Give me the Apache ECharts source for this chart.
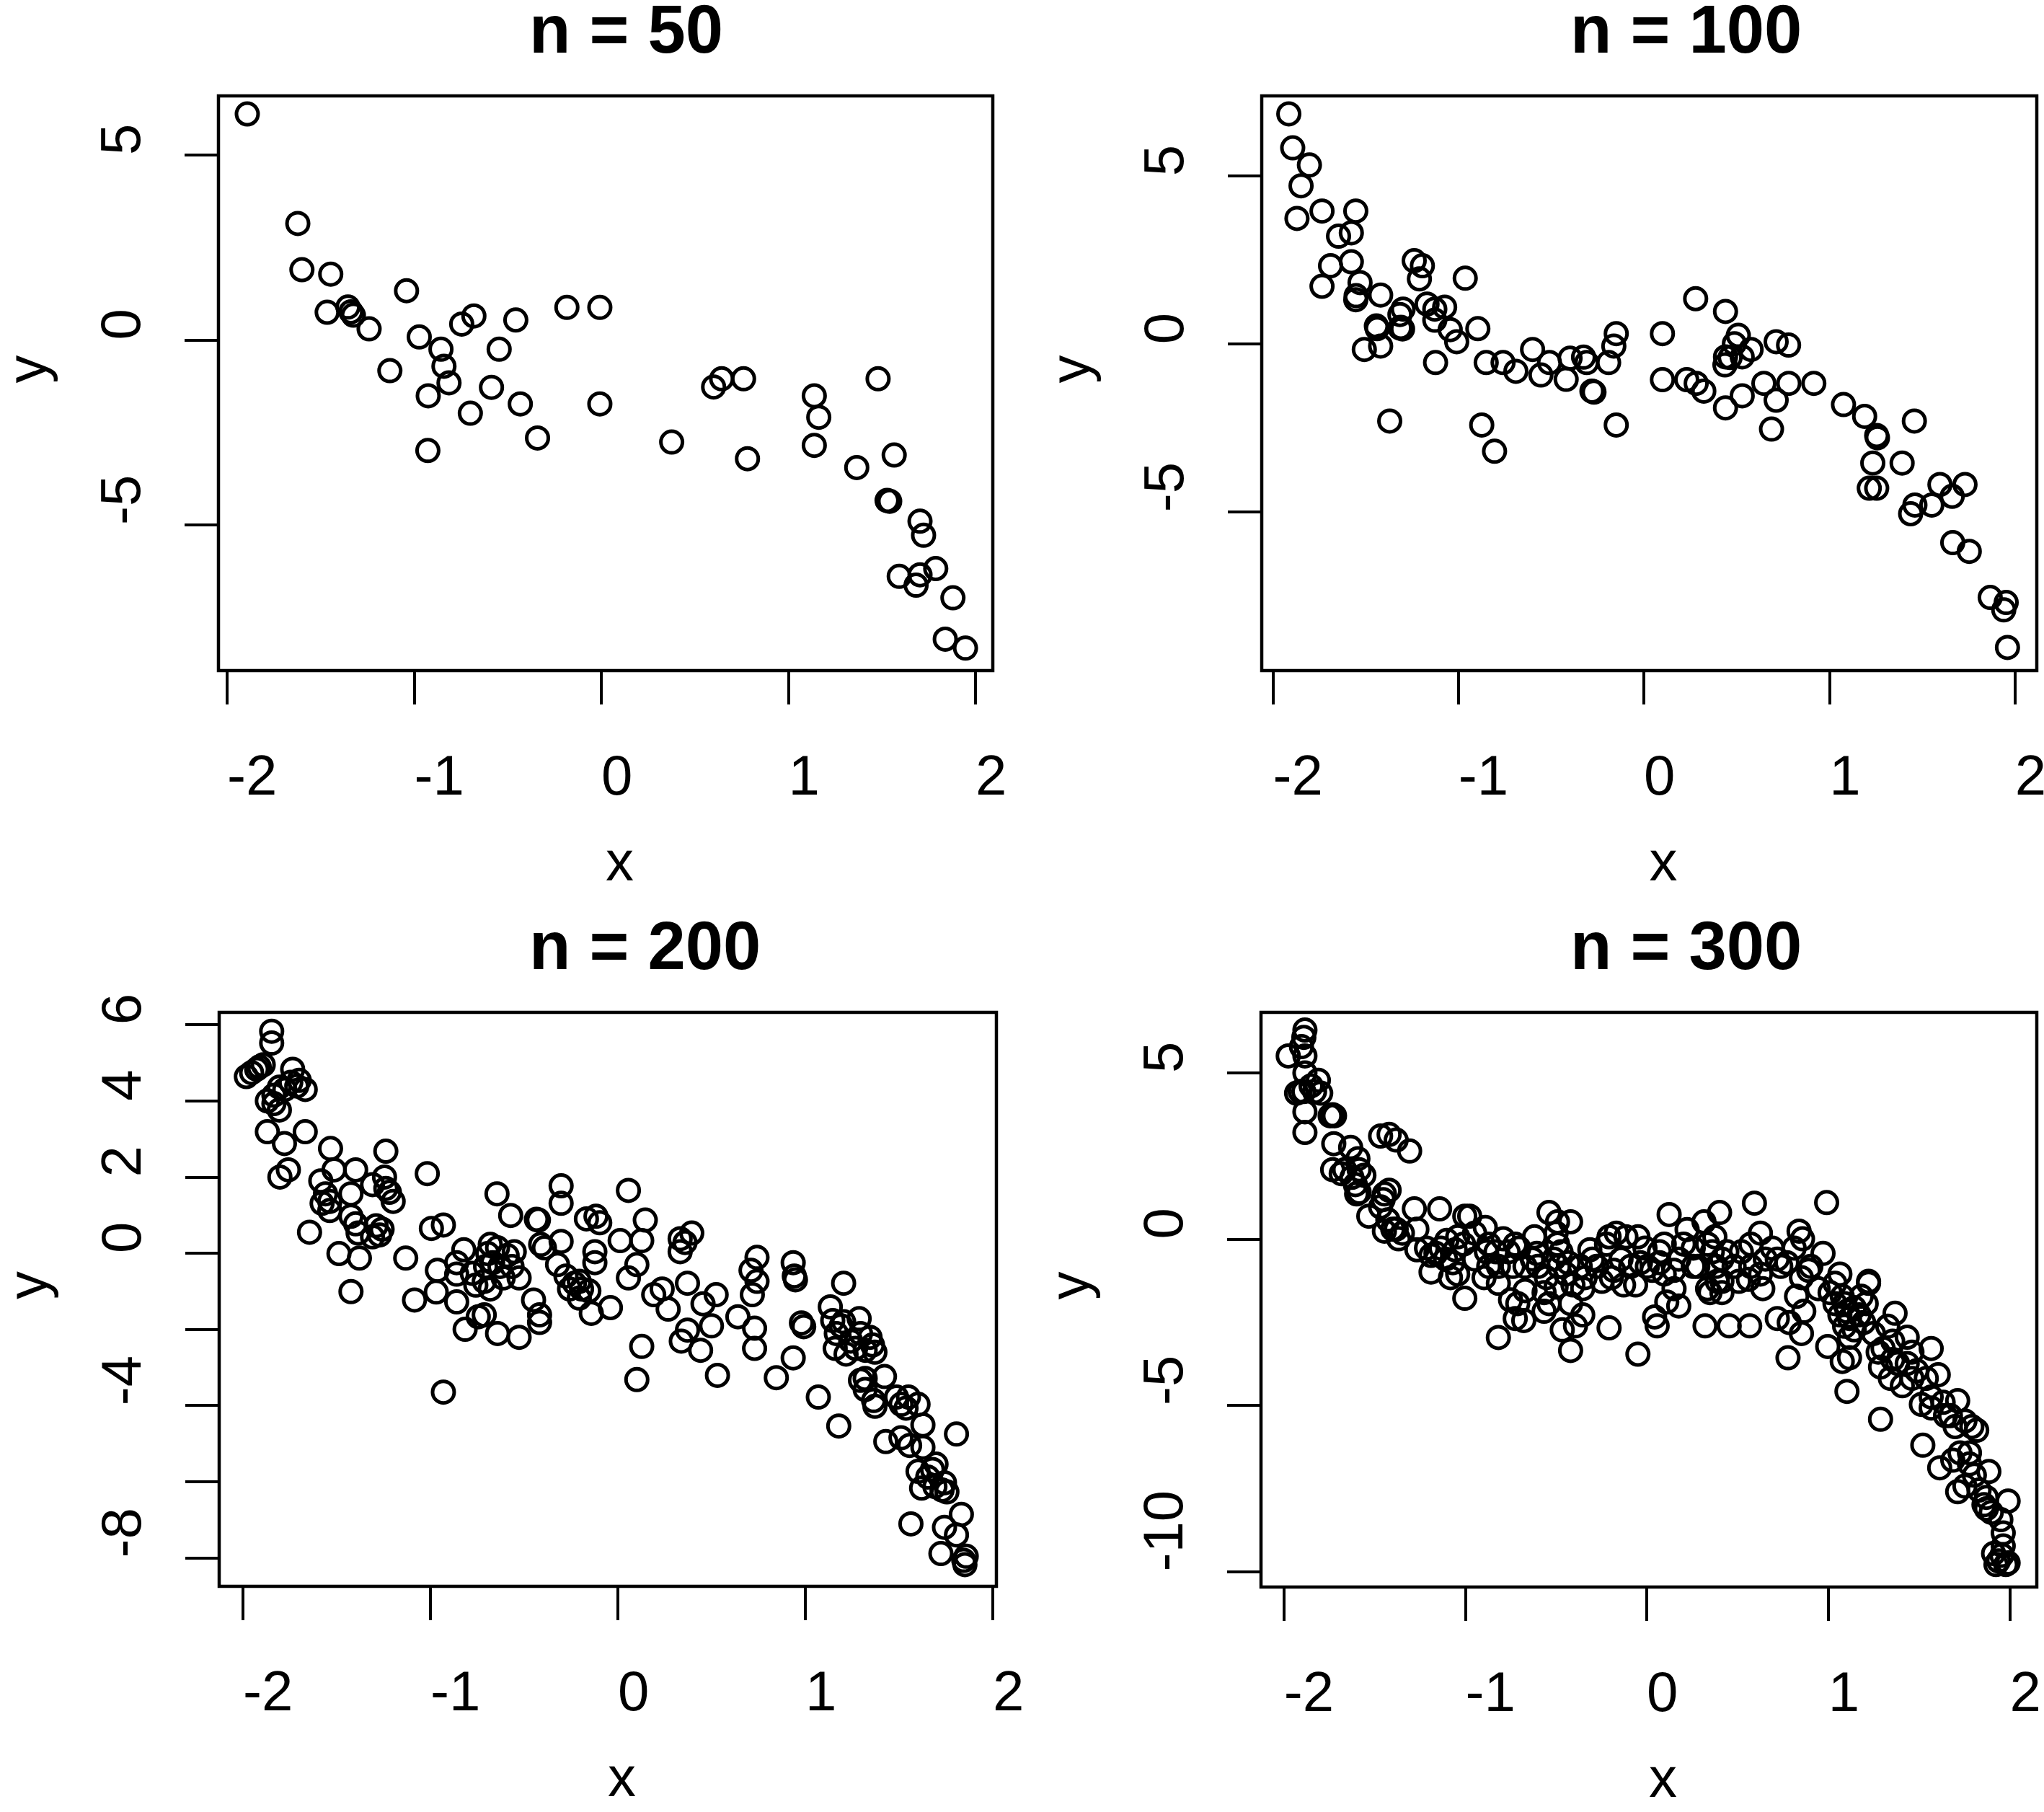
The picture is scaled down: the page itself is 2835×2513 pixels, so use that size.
<!DOCTYPE html>
<html><head><meta charset="utf-8">
<script src="https://cdn.jsdelivr.net/npm/echarts@6/dist/echarts.min.js"></script>
<style>html,body{margin:0;padding:0;background:#fff}#c{width:2835px;height:2513px}</style>
</head><body><div id="c"></div>
<script>
// ---------- data ----------
const titles = ['n = 50', 'n = 100', 'n = 200', 'n = 300'];
const xTicks = [-2, -1, 0, 1, 2];
const yTicksA = [-5, 0, 5];
const yTicksC = [-8, -6, -4, -2, 0, 2, 4, 6];
const yLabelsC = [-8, -4, 0, 2, 4, 6];
const yTicksD = [-10, -5, 0, 5];

const n50 = [[-1.892,6.11],[-1.622,3.15],[-1.600,1.90],[-1.446,1.78],[-1.465,0.75],[-1.354,0.89],[-1.338,0.76],[-1.325,0.67],[-1.241,0.30],[-1.041,1.33],[-1.130,-0.83],[-0.973,0.08],[-0.857,-0.25],[-0.841,-0.71],[-0.814,-1.16],[-0.925,-1.51],[-0.927,-2.99],[-0.746,0.43],[-0.681,0.65],[-0.700,-1.98],[-0.587,-1.28],[-0.546,-0.25],[-0.457,0.54],[-0.433,-1.73],[-0.341,-2.65],[-0.184,0.88],[-0.008,0.88],[-0.008,-1.73],[0.376,-2.76],[0.600,-1.27],[0.643,-1.05],[0.760,-1.05],[0.781,-3.21],[1.138,-1.51],[1.162,-2.09],[1.138,-2.85],[1.365,-3.45],[1.479,-1.05],[1.565,-3.11],[1.527,-4.34],[1.541,-4.36],[1.703,-4.90],[1.722,-5.28],[1.787,-6.18],[1.592,-6.39],[1.703,-6.35],[1.682,-6.63],[1.879,-6.97],[1.838,-8.09],[1.946,-8.33]];

const n100 = [[-1.914,6.85],[-1.893,5.84],[-1.803,5.33],[-1.848,4.71],[-1.870,3.74],[-1.735,3.96],[-1.553,3.96],[-1.646,3.21],[-1.577,3.31],[-1.689,2.33],[-1.577,2.45],[-1.735,1.72],[-1.530,1.83],[-1.551,1.44],[-1.553,1.32],[-1.419,1.46],[-1.507,-0.16],[-1.419,-0.06],[-1.442,0.54],[-1.438,0.46],[-1.370,-2.29],[-1.315,0.88],[-1.298,1.04],[-1.315,0.48],[-1.301,0.45],[-1.238,2.48],[-1.194,2.33],[-1.210,1.94],[-1.169,1.19],[-1.127,1.04],[-1.074,1.10],[-1.127,0.71],[-1.044,0.43],[-1.009,0.07],[-1.123,-0.55],[-0.963,1.96],[-0.895,0.46],[-0.874,-2.41],[-0.805,-3.19],[-0.850,-0.55],[-0.759,-0.55],[-0.690,-0.81],[-0.600,-0.16],[-0.555,-0.92],[-0.509,-0.55],[-0.419,-1.05],[-0.398,-0.42],[-0.325,-0.39],[-0.308,-0.55],[-0.280,-1.40],[-0.269,-1.43],[-0.190,-0.55],[-0.162,-0.06],[-0.149,0.31],[-0.149,-2.41],
[0.100,0.31],[0.100,-1.06],[0.279,1.35],[0.440,0.97],[0.509,0.26],[0.488,0.01],[0.578,-0.16],[0.530,-0.38],[0.440,-0.38],[0.437,-0.62],[0.231,-1.06],[0.282,-1.17],[0.323,-1.40],[0.440,-1.90],[0.530,-1.54],[0.647,-1.17],[0.713,-1.67],[0.688,-2.53],[0.713,0.07],[0.780,-0.03],[0.781,-1.17],[0.916,-1.17],[1.076,-1.80],[1.190,-2.15],[1.255,-2.72],[1.259,-2.79],[1.234,-3.54],[1.215,-4.29],[1.255,-4.29],[1.458,-2.29],[1.392,-3.54],[1.596,-4.18],[1.731,-4.18],[1.662,-4.53],[1.552,-4.79],[1.461,-4.79],[1.438,-5.05],[1.665,-5.91],[1.754,-6.17],[1.867,-7.54],[1.953,-7.69],[1.940,-7.91],[1.960,-9.03],[-1.310,0.50],[0.465,-0.40]];

const n200 = [[-1.847,5.83],[-1.847,5.52],[-1.892,4.95],[-1.927,4.83],[-1.954,4.74],[-1.982,4.64],[-1.735,4.83],[-1.745,4.49],[-1.713,4.39],[-1.668,4.30],[-1.806,4.36],[-1.870,4.00],[-1.835,3.93],[-1.806,3.76],[-1.870,3.19],[-1.779,2.88],[-1.668,3.19],[-1.758,2.19],[-1.803,2.00],[-1.533,2.75],[-1.514,2.19],[-1.399,2.19],[-1.585,1.90],[-1.560,1.56],[-1.537,1.36],[-1.537,1.12],[-1.424,1.56],[-1.424,0.97],[-1.399,0.77],[-1.386,0.53],[-1.309,1.80],[-1.238,2.68],[-1.245,2.00],[-1.238,1.70],[-1.199,1.36],[-1.258,0.63],[-1.271,0.48],[-1.309,0.43],[-1.645,0.55],[-1.488,-0.01],[-1.379,-0.13],[-1.424,-1.01],[-1.017,2.09],[-0.995,0.65],[-0.931,0.74],[-1.132,-0.13],[-0.963,-0.45],[-0.860,-0.25],[-0.822,0.09],[-0.860,-0.55],[-0.777,-0.53],[-0.758,-0.84],[-0.969,-1.02],[-0.860,-1.28],[-0.745,-1.67],[-0.815,-2.00],[-1.085,-1.23],[-0.931,-3.65],
[-0.645,1.56],[-0.572,0.99],[-0.424,0.87],[-0.435,0.89],[-0.303,1.77],[-0.303,1.31],[-0.681,0.23],[-0.694,-0.01],[-0.706,-0.35],[-0.713,-0.74],[-0.713,-1.62],[-0.642,0.14],[-0.591,-0.06],[-0.612,-0.65],[-0.527,-0.65],[-0.642,-2.11],[-0.527,-2.21],[-0.450,-1.23],[-0.418,-1.62],[-0.418,-1.82],[-0.412,0.23],[-0.392,0.14],[-0.303,0.31],[-0.322,-0.30],[-0.277,-0.60],[-0.232,-0.79],[-0.194,-0.94],[-0.155,-0.99],[-0.206,-1.18],[-0.142,-1.58],[-0.040,-1.43],[-0.168,0.90],[-0.117,0.97],[-0.097,0.80],[-0.123,0.04],[-0.123,-0.25],[0.012,0.33],[0.056,1.65],[0.146,0.87],[0.127,0.33],[0.101,-0.30],[0.056,-0.65],[0.127,-2.45],[0.101,-3.32],[0.191,-1.09],[0.236,-0.94],[0.268,-1.47],[0.371,-0.79],[0.332,0.04],[0.358,0.28],[0.394,0.53],[0.338,-2.31],[0.371,-2.02],[0.441,-2.55],[0.454,-1.33],[0.524,-1.09],[0.499,-1.91],[0.531,-3.21],[0.640,-1.67],[0.710,-0.45],[0.742,-0.11],[0.717,-1.09],[0.729,-1.97],[0.729,-2.50],[0.742,-0.74],
[0.935,-0.25],[0.941,-0.60],[0.947,-0.70],[1.204,-0.79],[0.979,-1.83],[0.991,-1.93],[0.935,-2.75],[0.845,-3.27],[1.069,-3.78],[1.178,-4.54],[1.133,-1.41],[1.146,-1.77],[1.204,-1.80],[1.287,-1.72],[1.345,-2.21],[1.159,-2.50],[1.217,-2.65],[1.268,-2.50],[1.319,-2.55],[1.371,-2.60],[1.422,-3.24],[1.294,-3.34],[1.319,-3.58],[1.364,-3.87],[1.371,-4.02],[1.486,-3.78],[1.550,-3.78],[1.601,-3.97],[1.627,-4.51],[1.429,-4.95],[1.510,-4.85],[1.556,-5.05],[1.627,-5.10],[1.806,-4.75],[1.697,-5.54],[1.601,-5.73],[1.653,-5.88],[1.691,-6.13],[1.755,-6.27],[1.742,-6.03],[1.620,-6.17],[1.832,-6.86],[1.563,-7.11],[1.742,-7.20],[1.806,-7.40],[1.723,-7.89],[1.858,-7.96],[1.851,-8.18],
[-1.835,4.15],[-1.777,4.30],[-1.700,4.54],[-1.913,4.89],[-1.578,1.31],[-1.290,0.72],[-1.219,1.60],[-0.668,-0.25],[-0.565,-0.35],[-0.629,-0.35],[-0.681,-0.94],[-0.553,0.04],[-0.258,-0.94],[-0.206,-0.74],[0.332,0.38],[1.165,-2.11],[1.242,-2.31],[1.294,-2.11],[1.358,-2.41],[1.191,-1.91],[1.537,-4.07],[1.678,-5.68],[1.729,-6.22],[1.845,-8.07],[1.319,-3.29],[1.511,-3.97]];

const n300 = [[-1.884,6.29],[-1.890,6.07],[-1.976,5.51],[-1.884,5.51],[-1.884,5.00],[-1.930,4.39],[-1.890,4.44],[-1.810,4.78],[-1.797,4.39],[-1.831,4.44],[-1.884,3.83],[-1.884,3.21],[-1.731,3.74],[-1.721,3.71],[-1.725,2.87],[-1.632,2.76],[-1.592,2.42],[-1.731,2.09],[-1.684,1.97],[-1.585,2.09],[-1.559,1.92],[-1.606,1.64],[-1.599,1.36],[-1.532,0.69],[-1.467,3.10],[-1.420,3.15],[-1.381,2.98],[-1.307,2.65],[-1.446,1.36],[-1.420,1.47],[-1.467,0.97],[-1.446,0.24],[-1.381,0.30],[-1.368,0.01],[-1.427,0.58],[-1.281,0.91],[-1.267,0.30],[-1.267,-0.32],[-1.189,-0.99],[-1.162,-0.43],[-1.142,0.91],[-1.102,-0.04],[-1.069,-0.71],[-1.082,-1.16],[-1.056,-0.32],[-1.010,-0.15],[-1.003,0.69],[-0.976,0.69],[-1.003,-1.78],[-0.818,-2.96],[-0.890,0.35],[-0.871,-0.15],[-0.897,-1.16],[-0.818,-1.33],[-0.791,0.01],[-0.831,-0.38],[-0.751,-1.83],[-0.725,-2.39],[-0.738,-0.82],
[-0.705,-0.27],[-0.711,-1.94],[-0.678,-2.45],[-0.671,-1.55],[-0.606,-0.43],[-0.599,-0.82],[-0.539,0.80],[-0.492,0.52],[-0.500,0.18],[-0.492,-0.15],[-0.420,0.52],[-0.486,-0.82],[-0.500,-1.44],[-0.539,-1.94],[-0.466,-2.73],[-0.420,-3.35],[-0.393,-2.61],[-0.353,-2.28],[-0.407,-1.38],[-0.353,-1.49],[-0.300,-0.60],[-0.314,-0.32],[-0.340,-1.16],[-0.208,-2.67],[-0.208,0.07],[-0.168,0.18],[-0.115,0.07],[-0.049,0.07],[-0.195,-1.16],[-0.182,-0.94],[-0.128,-1.38],[-0.062,-1.38],[-0.035,-0.71],[-0.049,-3.46],[0.043,-2.34],[0.057,-2.61],[0.110,-1.89],[0.176,-2.01],[0.070,-0.38],[0.070,-0.71],[0.123,0.74],[0.150,-0.94],[0.222,0.29],[0.256,-0.27],[0.281,-0.82],[0.315,0.52],[0.401,0.80],[0.321,-2.61],[0.454,-2.61],[0.567,-2.61],[0.593,1.08],[0.361,-0.38],[0.382,-0.82],[0.388,-1.27],[0.348,-1.61],[0.414,-0.60],[0.521,-0.38],[0.573,-0.15],[0.560,-1.21],[0.626,0.18],[0.639,-1.49],[0.003,-0.82],[-0.619,0.07],[-0.566,-2.17],[-0.433,-0.71],[0.414,-1.27],
[0.991,1.10],[0.839,0.24],[0.858,0.01],[0.971,-0.43],[0.738,-0.82],[0.852,-1.16],[0.892,-0.94],[0.825,-1.72],[0.865,-2.17],[0.719,-2.39],[0.785,-2.51],[0.852,-2.84],[0.778,-3.57],[0.997,-3.23],[1.037,-1.33],[1.064,-1.05],[1.077,-1.72],[1.103,-2.17],[1.143,-2.06],[1.222,-1.33],[1.222,-1.27],[1.090,-2.62],[1.117,-2.95],[1.077,-3.68],[1.117,-3.57],[1.103,-4.58],[1.368,-2.23],[1.328,-2.62],[1.275,-3.40],[1.288,-3.85],[1.342,-4.19],[1.435,-2.95],[1.461,-3.40],[1.567,-3.29],[1.487,-3.96],[1.606,-4.08],[1.513,-4.97],[1.567,-4.75],[1.633,-4.91],[1.713,-4.86],[1.673,-5.31],[1.753,-5.47],[1.791,-5.64],[1.288,-5.42],[1.521,-6.20],[1.614,-6.88],[1.686,-6.65],[1.778,-6.76],[1.885,-6.99],[1.713,-7.60],[1.753,-7.43],[1.871,-8.11],[1.991,-7.88],[1.951,-8.44],[1.964,-8.84],[1.957,-9.51],[1.978,-9.79],[1.924,-9.79],[1.182,-1.72],[1.195,-2.51],[1.355,-3.62],[1.408,-4.41],[1.818,-5.75],[1.858,-7.99],[1.911,-9.46],
[-0.725,-0.15],[-0.631,-0.60],[-0.553,-1.16],[-0.446,-1.05],[-0.473,-0.38],[-0.367,-0.82],[-0.275,-0.82],[-0.248,-1.27],[-0.222,-0.15],[-0.142,-0.60],[-0.089,-0.82],[-0.010,-0.27],[0.030,-0.94],[0.096,-0.15],[0.176,-0.60],[0.203,-0.15],[0.256,-0.82],[0.335,-0.15],[0.375,0.07],[0.441,-0.38],[0.481,-0.82],[0.507,-1.27],[0.573,-0.82],[0.653,-0.60],[0.626,-1.05],[0.414,-1.61],[0.335,-1.49],[-0.566,-1.61],[-0.671,-0.82],[-0.420,-1.94],[-0.513,-0.60],[0.096,-1.05],[0.150,-1.49],
[0.692,-0.27],[0.719,-0.60],[0.772,-0.71],[0.812,-0.27],[0.904,-0.82],[0.944,-1.49],[1.010,-1.61],[1.037,-1.94],[1.064,-2.28],[1.090,-1.94],[1.117,-2.39],[1.143,-2.73],[1.170,-2.28],[1.209,-1.94],[1.249,-2.84],[1.302,-3.29],[1.355,-3.07],[1.382,-3.74],[1.435,-3.74],[1.461,-4.19],[1.540,-4.19],[1.567,-5.08],[1.646,-5.31],[1.699,-5.64],[1.726,-6.43],[1.778,-6.43],[1.805,-7.10],[1.831,-7.55],[1.871,-7.77],[1.898,-8.22],[1.964,-9.23],[1.938,-9.68],[1.991,-9.74],
[-1.903,5.79],[-1.850,4.61],[-1.910,4.44],[-1.745,3.71],[-1.665,2.09],[-1.625,1.86],[-1.585,1.41],[-1.453,1.19],[-1.400,0.30],[-1.347,0.18],[-1.214,-0.27],[-1.135,-0.27],[-1.109,-0.60],[-1.042,0.07],[-0.949,0.18],[-0.949,-0.60],[-0.871,-0.82],[-0.818,-0.82],[-0.764,-0.38],[-1.189,-0.49],[-1.042,-1.05],[-0.884,-0.38]];

// ---------- layout (pixels) ----------
const FONT = '"Liberation Sans", Arial, Helvetica, sans-serif';
const panels = [
  {data: n50,  box: [303, 133, 1377, 930],   xr: [-2.046, 2.092], yr: [-8.938, 6.598], yt: yTicksA, yl: yTicksA, tl: [734, 0]},
  {data: n100, box: [1750, 133, 2825, 930],  xr: [-2.060, 2.118], yr: [-9.717, 7.386], yt: yTicksA, yl: yTicksA, tl: [2178, 0]},
  {data: n200, box: [304, 1404, 1382, 2200], xr: [-2.127, 2.019], yr: [-8.750, 6.326], yt: yTicksC, yl: yLabelsC, tl: [734, 1271]},
  {data: n300, box: [1749, 1404, 2825, 2201], xr: [-2.126, 2.149], yr: [-10.466, 6.822], yt: yTicksD, yl: yTicksD, tl: [2178, 1271]}
];

const option = {
  animation: false, backgroundColor: '#fff',
  title: [], grid: [], xAxis: [], yAxis: [], series: []
};
panels.forEach((p, i) => {
  const [l, t, r, b] = p.box;
  option.title.push({text: titles[i], left: p.tl[0], top: p.tl[1], padding: 0,
    textStyle: {fontSize: 94, fontWeight: 'bold', color: '#000', fontFamily: FONT}});
  option.grid.push({left: l, top: t, width: r - l, height: b - t, show: true,
    borderColor: '#000', borderWidth: 4.5, backgroundColor: 'transparent', outerBoundsMode: 'none', containLabel: false});
  option.xAxis.push({gridIndex: i, type: 'value', position: 'bottom', min: p.xr[0], max: p.xr[1],
    axisLine: {show: false, onZero: false}, splitLine: {show: false},
    axisTick: {show: true, inside: false, length: 47, lineStyle: {color: '#000', width: 4}, customValues: xTicks},
    axisLabel: {customValues: xTicks, fontSize: 78, fontFamily: FONT, color: '#000', margin: 111, align: 'left'},
    name: 'x', nameLocation: 'middle', nameGap: 230, nameMoveOverlap: false,
    nameTextStyle: {fontSize: 78, fontFamily: FONT, color: '#000', align: 'left', verticalAlign: 'top'}});
  option.yAxis.push({gridIndex: i, type: 'value', position: 'left', min: p.yr[0], max: p.yr[1],
    axisLine: {show: false, onZero: false}, splitLine: {show: false},
    axisTick: {show: true, inside: false, length: 47, lineStyle: {color: '#000', width: 4}, customValues: p.yt},
    axisLabel: {customValues: p.yl, fontSize: 78, fontFamily: FONT, color: '#000', margin: 92, rotate: 90, align: 'left', verticalAlign: 'bottom'},
    name: 'y', nameLocation: 'middle', nameGap: 222, nameRotate: 90, nameMoveOverlap: false,
    nameTextStyle: {fontSize: 78, fontFamily: FONT, color: '#000', align: 'left', verticalAlign: 'bottom'}});
  option.series.push({type: 'scatter', xAxisIndex: i, yAxisIndex: i, data: p.data,
    symbol: 'circle', symbolSize: 30, silent: true,
    itemStyle: {color: 'rgba(0,0,0,0)', borderColor: '#000', borderWidth: 5, opacity: 1}});
});
const chart = echarts.init(document.getElementById('c'), null, {renderer: 'canvas'});
chart.setOption(option);
</script></body></html>
